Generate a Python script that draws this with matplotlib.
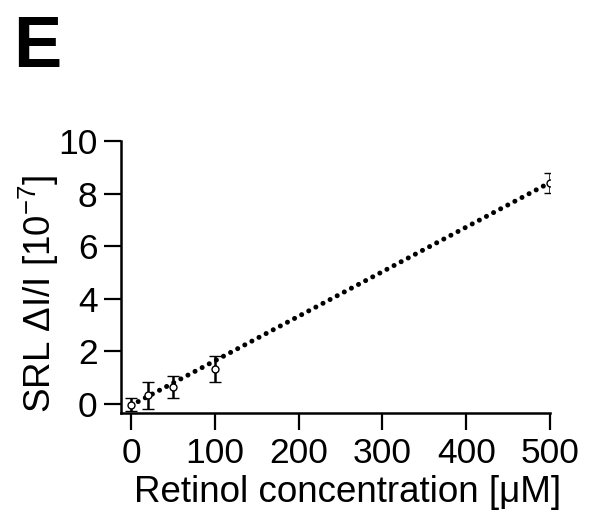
import matplotlib
matplotlib.use("Agg")
import matplotlib.pyplot as plt

# retinol concentration (uM) and SRL signal (1e-7)
conc = [0, 20, 50, 100, 500]
srl = [-0.03, 0.34, 0.66, 1.32, 8.41]
srl_err = [0.25, 0.51, 0.42, 0.50, 0.38]

# linear fit line end points
fit_x = [0, 500]
fit_y = [-0.05, 8.42]

x_ticks = [0, 100, 200, 300, 400, 500]
y_ticks = [0, 2, 4, 6, 8, 10]

plt.rcParams['font.family'] = ['Liberation Sans', 'DejaVu Sans']
plt.rcParams['mathtext.fontset'] = 'custom'
plt.rcParams['mathtext.rm'] = 'Liberation Sans'

fig = plt.figure(figsize=(5.93, 5.12), dpi=100)
ax = fig.add_axes([121 / 593, 99 / 512, 429 / 593, 272 / 512])

ax.plot(fit_x, fit_y, color='black', lw=3.6, linestyle=(0, (0.01, 1.6)),
        dash_capstyle='round', zorder=2)
ax.errorbar(conc, srl, yerr=srl_err, fmt='o', color='black', mfc='white',
            ms=5, mew=1.0, ecolor='black', elinewidth=1.8, capsize=4,
            capthick=1.8, zorder=3)

ax.set_xlim(-12, 500)
ax.set_ylim(-0.34, 10)
ax.set_xticks(x_ticks)
ax.set_yticks(y_ticks)
ax.spines['top'].set_visible(False)
ax.spines['right'].set_visible(False)
ax.spines['left'].set_linewidth(1.8)
ax.spines['bottom'].set_linewidth(1.8)
ax.tick_params(length=12, width=1.6, labelsize=25.5, pad=5)

ax.set_xlabel('Retinol concentration [μM]', fontsize=26.5)
ax.xaxis.set_label_coords(0.529, -0.228)
ax.xaxis.label.set_va('top')
ax.set_ylabel('SRL ΔI/I [10$^{\\mathregular{-7}}$]', fontsize=26.5)
ax.yaxis.set_label_coords(-0.14, 0.4375)

fig.text(13 / 593, 1 - 67 / 512, 'E', fontsize=52, fontweight='bold',
         ha='left', va='baseline')

fig.savefig('out.png', dpi=100)
